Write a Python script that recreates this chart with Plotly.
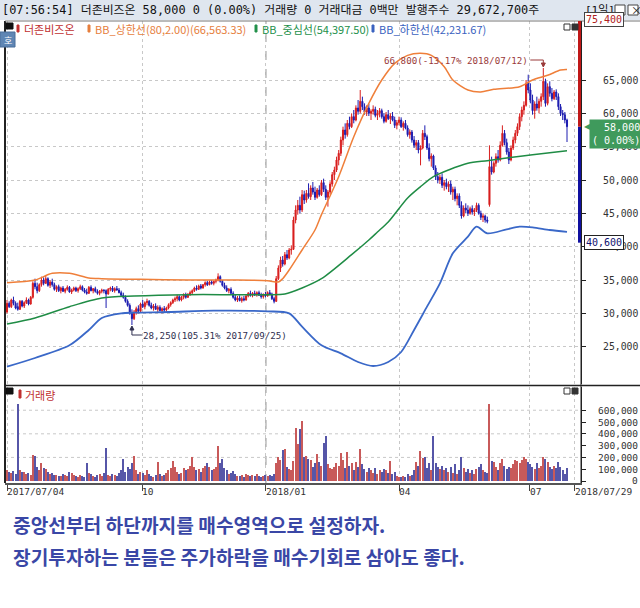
import plotly.graph_objects as go

# ---------------- data ----------------
# daily candles, prices in units of 100 won
OPEN = [302,315,310,320,315,310,306,318,311,316,
        320,314,324,345,340,334,343,350,345,352,
        342,347,343,336,340,334,338,333,336,339,
        332,335,338,334,337,340,335,332,330,339,
        334,337,333,330,333,335,334,329,336,338,
        334,337,335,331,327,324,318,312,300,292,
        302,307,303,314,310,316,318,312,308,311,
        306,309,304,307,305,308,313,316,320,322,
        325,320,324,328,324,329,331,334,338,336,
        341,338,343,346,343,347,345,348,350,355,
        348,342,338,334,336,330,324,320,323,319,
        322,320,326,330,327,330,328,331,327,325,
        328,326,331,329,322,318,352,368,380,374,
        388,383,395,396,440,455,462,455,478,470,
        480,475,488,482,474,485,478,496,486,474,
        482,494,508,515,530,540,560,575,568,585,
        580,595,590,608,603,618,610,602,608,600,
        603,606,597,600,604,595,588,598,592,596,
        590,582,586,590,580,585,578,568,572,560,
        552,556,545,548,570,565,548,532,536,518,
        505,500,504,492,496,490,494,482,486,472,
        476,462,446,458,455,450,457,452,455,462,
        450,444,446,440,463,520,512,525,535,530,
        552,570,556,542,530,548,560,570,580,595,
        605,612,645,635,620,604,614,608,618,625,
        648,615,640,630,622,632,625,610,600,598,
        590]
HIGH = [320,318,322,325,318,316,320,320,318,324,
        322,326,348,352,346,345,355,354,356,354,
        350,352,346,342,343,340,341,338,342,341,
        337,340,340,339,343,342,338,337,341,342,
        338,340,336,335,337,336,336,338,340,341,
        339,341,338,334,331,327,321,315,306,305,
        310,312,316,320,318,322,320,316,314,315,
        312,312,309,311,310,315,318,322,325,328,
        327,326,330,331,330,334,336,340,342,343,
        344,344,348,349,349,350,349,352,360,357,
        350,346,342,338,339,333,328,326,327,325,
        326,328,332,334,332,334,333,334,331,330,
        332,333,335,331,325,356,372,385,386,392,
        395,398,402,445,462,470,475,485,484,485,
        495,492,497,490,488,492,500,502,492,485,
        498,512,520,535,545,565,580,585,590,595,
        600,605,612,620,635,625,615,612,614,606,
        612,610,605,608,607,600,602,605,600,602,
        595,590,595,594,588,590,582,576,575,566,
        560,560,552,575,582,568,555,540,538,522,
        512,508,510,500,502,498,499,490,490,480,
        480,468,462,465,462,460,462,458,466,465,
        454,450,448,445,552,535,528,540,545,558,
        582,575,562,548,552,565,575,585,600,610,
        618,650,658,645,628,618,625,622,630,668,
        652,645,648,638,635,636,630,614,605,602,
        592]
LOW = [300,308,308,312,306,304,305,309,308,314,
       312,313,322,336,330,332,340,342,344,340,
       338,340,334,332,332,330,332,330,334,331,
       329,333,332,331,335,333,330,328,329,333,
       330,331,328,327,330,330,308,328,333,332,
       331,334,330,326,322,316,310,298,282.5,290,
       298,300,302,308,306,312,310,306,304,305,
       302,303,300,302,301,306,310,314,317,318,
       318,318,321,322,323,326,328,332,334,335,
       336,337,340,341,342,343,342,345,348,346,
       340,336,332,330,328,322,318,317,318,316,
       318,319,324,325,324,326,325,326,322,322,
       324,325,327,320,315,317,350,362,370,372,
       380,381,388,395,435,448,450,452,464,466,
       472,470,478,470,472,475,476,482,470,460,
       478,490,500,512,522,536,552,562,565,576,
       578,585,588,598,600,605,598,596,596,590,
       598,594,590,594,592,585,586,590,584,588,
       578,576,582,578,574,576,565,562,556,548,
       545,540,522,546,560,545,528,520,515,500,
       495,494,488,484,486,482,478,470,468,462,
       458,442,444,450,446,448,448,446,452,448,
       440,437,436,435,460,508,510,520,526,528,
       550,552,538,524,528,545,555,566,575,588,
       598,610,630,615,598,592,604,600,610,620,
       610,612,625,618,620,620,605,596,590,585,
       557]
CLOSE = [315,310,320,315,308,306,318,311,316,320,
         314,324,345,340,334,343,350,345,352,342,
         347,343,336,340,334,338,333,336,339,332,
         335,338,334,337,340,335,332,330,339,334,
         337,333,330,333,335,334,329,336,338,334,
         337,335,331,327,324,318,312,300,292,302,
         307,303,314,310,316,318,312,308,311,306,
         309,304,307,305,308,313,316,320,322,325,
         320,324,328,324,329,331,334,338,336,341,
         338,343,346,343,347,345,348,350,355,348,
         342,338,334,336,330,324,320,323,319,322,
         320,326,330,327,330,328,331,327,325,328,
         326,331,329,322,318,352,368,380,374,388,
         383,395,396,440,455,462,455,478,470,480,
         475,488,482,474,485,478,496,486,474,482,
         494,508,515,530,540,560,575,568,585,580,
         595,590,608,603,618,610,602,608,600,603,
         606,597,600,604,595,588,598,592,596,590,
         582,586,590,580,585,578,568,572,560,552,
         556,545,548,570,565,548,532,536,518,505,
         500,504,492,496,490,494,482,486,472,476,
         462,446,458,455,450,457,452,455,462,450,
         444,446,440,438,520,512,525,535,530,552,
         570,556,542,530,548,560,570,580,595,605,
         612,645,635,620,604,614,608,618,625,648,
         615,640,630,622,632,625,610,600,598,590,
         580]
# volume in thousands of shares
VOLUME_K = [95,80,70,85,60,650,90,75,80,60,
            70,55,220,210,120,95,150,110,100,80,
            60,70,55,50,40,45,60,50,45,80,
            70,55,40,35,50,45,30,150,70,60,
            40,35,50,60,45,70,280,55,45,60,
            50,40,70,90,190,80,120,100,150,210,
            90,60,80,70,50,90,60,40,35,50,
            160,60,45,50,70,90,110,170,120,80,
            60,70,110,90,100,130,200,120,90,100,
            80,110,130,155,120,90,100,120,295,150,
            185,110,90,60,70,85,60,45,40,50,
            35,60,55,40,50,45,60,40,30,45,
            50,40,55,45,60,150,200,180,265,275,
            120,100,90,170,450,310,445,510,200,210,
            190,180,120,150,225,160,130,320,385,140,
            110,100,120,150,130,240,180,110,245,130,
            150,90,160,120,270,140,100,80,110,90,
            70,110,60,90,80,100,95,70,170,60,
            80,40,30,35,40,30,60,45,50,90,
            160,130,255,195,200,110,150,90,380,150,
            120,100,130,90,110,80,120,70,140,60,
            90,205,110,80,100,70,90,60,100,120,
            140,90,80,70,655,170,160,120,90,150,
            190,130,100,120,110,140,180,170,150,180,
            200,190,160,140,120,100,150,110,130,200,
            190,160,120,100,130,110,160,120,90,60,
            110]
PRICE_UNIT = 100
VOLUME_UNIT = 1000

# Bollinger band (80, 2.00), thousands of won
BB_UPPER_IDX = [0, 13, 21, 29, 38, 44, 62, 84, 105, 121, 126, 128, 131, 137, 143, 146, 154,
                161, 168, 174, 180, 186, 192, 197, 203, 207, 214, 220, 226, 238, 244, 251, 257, 260]
BB_UPPER = [34.6, 35.0, 36.0, 36.0, 35.3, 35.2, 35.1, 35.0, 35.0, 34.9, 34.7, 35.2, 36.5, 39.5,
            42.5, 44.8, 50.5, 56.5, 61.5, 65.0, 67.5, 68.7, 69.0, 68.7, 67.0, 65.0, 63.5, 63.2,
            63.6, 64.0, 65.0, 65.7, 66.5, 66.56]
BB_MID_IDX = [0, 13, 29, 44, 59, 84, 105, 121, 129, 137, 146, 160, 168, 172, 177, 186, 192, 198,
              205, 214, 223, 232, 244, 260]
BB_MID = [28.4, 29.3, 31.0, 32.3, 32.6, 32.8, 32.8, 32.8, 32.9, 33.8, 35.2, 38.8, 41.0, 42.2,
          43.7, 47.3, 49.0, 50.5, 51.5, 52.5, 52.9, 53.3, 53.8, 54.4]
BB_LOWER_IDX = [0, 13, 29, 38, 44, 53, 59, 75, 96, 121, 131, 137, 146, 155, 163, 170, 177, 183,
                189, 195, 201, 207, 214, 218, 223, 232, 238, 244, 252, 260]
BB_LOWER = [22.0, 23.3, 25.2, 27.5, 29.3, 30.0, 30.1, 30.2, 30.4, 30.3, 30.0, 28.0, 25.2, 24.0,
            22.7, 22.1, 22.7, 24.2, 27.5, 31.0, 34.5, 39.0, 41.5, 43.0, 42.0, 42.6, 43.0, 42.9,
            42.5, 42.23]
BB_UNIT = 1000

PRICE_TICKS = [25000, 30000, 35000, 40000, 45000, 50000, 55000, 60000, 65000]
VOL_TICKS = [0, 100000, 200000, 300000, 400000, 500000, 600000]
VOL_GRID = [200000, 400000, 600000]
DATE_TICK_POS = [0, 62.7, 120.2, 182, 242.8, 263.7]
DATE_TICK_TEXT = ["2017/07/04", "10", "2018/01", "04", "07", "2018/07/29"]
YEAR_TICK_POS = 120.2

HIGH_IDX, HIGH_VAL, HIGH_TEXT = 249, 66800, "66,800(-13.17% 2018/07/12)"
LOW_IDX, LOW_VAL, LOW_TEXT = 58, 28250, "28,250(105.31% 2017/09/25)"
RANGE_LOW, RANGE_HIGH = 40600, 75400
LAST_PRICE, LAST_CHANGE = 58000, "0.00%"

HEADER = "[07:56:54] 더존비즈온 58,000 0 (0.00%) 거래량 0 거래대금 0백만 발행주수 29,672,700주"
LEGEND = [("더존비즈온", "#c03030"),
          ("BB_상한선(80,2.00)(66,563.33)", "#e67e3c"),
          ("BB_중심선(54,397.50)", "#23904a"),
          ("BB_하한선(42,231.67)", "#3a62c0")]
NOTE_1 = "중앙선부터 하단까지를 매수영역으로 설정하자."
NOTE_2 = "장기투자하는 분들은 주가하락을 매수기회로 삼아도 좋다."

# ---------------- layout helpers (pixel -> paper) ----------------
L, R, T, B = 5, 581, 21, 483


def px(x):
    return (x - L) / (R - L)


def py(y):
    return (B - y) / (B - T)


PRICE_DOM = [py(384), 1]
VOL_DOM = [0, py(387)]
X_RANGE = [-0.93, 266.5]
UP, DN = "#d81e1e", "#1c1cb0"
CJK = "Noto Sans CJK KR"
MONO = "DejaVu Sans Mono"
MONO_CJK = "DejaVu Sans Mono, Noto Sans CJK KR"

n = len(CLOSE)
idx = list(range(n))
o = [v * PRICE_UNIT for v in OPEN]
h = [v * PRICE_UNIT for v in HIGH]
lo = [v * PRICE_UNIT for v in LOW]
c = [v * PRICE_UNIT for v in CLOSE]
vol = [v * VOLUME_UNIT for v in VOLUME_K]
vol_colors = ["#c85a5a" if cc >= oo else "#5656a8" for oo, cc in zip(OPEN, CLOSE)]

fig = go.Figure()
fig.add_trace(go.Candlestick(
    x=idx, open=o, high=h, low=lo, close=c, xaxis="x", yaxis="y",
    increasing=dict(line=dict(color=UP, width=1), fillcolor=UP),
    decreasing=dict(line=dict(color=DN, width=1), fillcolor=DN),
    whiskerwidth=0, showlegend=False))
for xs, ys, col, w in [(BB_UPPER_IDX, BB_UPPER, "#ef7f3a", 1.5),
                       (BB_MID_IDX, BB_MID, "#1f8c45", 1.5),
                       (BB_LOWER_IDX, BB_LOWER, "#3a68c8", 1.8)]:
    fig.add_trace(go.Scatter(x=xs, y=[v * BB_UNIT for v in ys], mode="lines",
                             line=dict(color=col, width=w, shape="spline", smoothing=0.8),
                             xaxis="x", yaxis="y", showlegend=False, hoverinfo="skip"))
fig.add_trace(go.Bar(x=list(range(len(vol))), y=vol, marker=dict(color=vol_colors, line=dict(width=0)),
                     width=0.55, xaxis="x2", yaxis="y2", showlegend=False))

shapes = []
# header band
shapes.append(dict(type="rect", xref="paper", yref="paper", x0=px(0), x1=px(640), y0=py(20), y1=py(0),
                   fillcolor="#dfe6ef", line=dict(width=0), layer="below"))
# frame lines
shapes += [
    dict(type="line", xref="paper", yref="paper", x0=0, x1=0, y0=0, y1=1, line=dict(color="#222", width=2)),
    dict(type="line", xref="paper", yref="paper", x0=0, x1=px(640), y0=1, y1=1, line=dict(color="#777", width=1)),
    dict(type="line", xref="paper", yref="paper", x0=0, x1=px(640), y0=py(385.5), y1=py(385.5),
         line=dict(color="#222", width=1.5)),
    dict(type="line", xref="paper", yref="paper", x0=1, x1=1, y0=0, y1=1, line=dict(color="#222", width=1)),
]
# year boundary dashed line in both panels
for yr in ["y", "y2"]:
    shapes.append(dict(type="line", xref="x", yref=yr + " domain", x0=YEAR_TICK_POS, x1=YEAR_TICK_POS,
                       y0=0, y1=1, line=dict(color="#9a9a9a", width=1.2, dash="dash"), layer="below"))
# volume grid
for g in VOL_GRID:
    shapes.append(dict(type="line", xref="x domain", yref="y2", x0=0, x1=1, y0=g, y1=g,
                       line=dict(color="#c8c8c8", width=1, dash="dot"), layer="below"))
# 52-week range bar at the right edge
shapes.append(dict(type="rect", xref="x", yref="y", x0=265.1, x1=266.5, y0=RANGE_LOW, y1=LAST_PRICE,
                   fillcolor="#1010a0", line=dict(width=0)))
shapes.append(dict(type="rect", xref="x", yref="y", x0=265.1, x1=266.5, y0=LAST_PRICE, y1=RANGE_HIGH,
                   fillcolor="#c01818", line=dict(width=0)))
# leaders for the high / low marks (pixel offsets around the data points)
shapes.append(dict(type="path", xref="x", yref="y", xsizemode="pixel", ysizemode="pixel",
                   xanchor=HIGH_IDX, yanchor=HIGH_VAL, path="M -13,8 L 0,8 L 0,2",
                   line=dict(color="#9a3a3a", width=1)))
shapes.append(dict(type="path", xref="x", yref="y", xsizemode="pixel", ysizemode="pixel",
                   xanchor=HIGH_IDX, yanchor=HIGH_VAL, path="M -2,5 L 2,5 L 0,1 Z",
                   fillcolor="#9a3a3a", line=dict(color="#9a3a3a", width=1)))
shapes.append(dict(type="path", xref="x", yref="y", xsizemode="pixel", ysizemode="pixel",
                   xanchor=LOW_IDX, yanchor=LOW_VAL, path="M 0,-2 L 0,-10 L 10,-10",
                   line=dict(color="#303050", width=1)))
shapes.append(dict(type="path", xref="x", yref="y", xsizemode="pixel", ysizemode="pixel",
                   xanchor=LOW_IDX, yanchor=LOW_VAL, path="M -2,-5 L 2,-5 L 0,-1 Z",
                   fillcolor="#303050", line=dict(color="#303050", width=1)))


# panel icons / legend colour bars
def prect(x0, x1, y0, y1, fill, line="#333"):
    return dict(type="rect", xref="paper", yref="paper", x0=px(x0), x1=px(x1), y0=py(y1), y1=py(y0),
                fillcolor=fill, line=dict(color=line, width=1))


shapes += [prect(6, 13, 23, 29, "#111", "#111"), prect(17, 19, 25, 32, "#c03030", "#c03030"),
           prect(88, 90, 25, 32, "#e67e3c", "#e67e3c"), prect(255, 257, 25, 32, "#23904a", "#23904a"),
           prect(372, 374, 25, 32, "#3a62c0", "#3a62c0"),
           prect(564, 570, 24, 30, "white"), prect(572, 578, 24, 30, "#333"),
           prect(6, 13, 388, 394, "#111", "#111"), prect(19, 21, 390, 398, "#c03030", "#c03030"),
           prect(564, 570, 388, 394, "white"), prect(572, 578, 388, 394, "#333"),
           prect(0, 15, 32, 47, "#5f86b4", "#4a6f9a"),
           prect(615, 625, 5, 15, "white", "#444"), prect(628, 638, 5, 15, "white", "#444")]

ann = []


def txt(x, y, text, size, color, family=CJK, xanchor="left", yanchor="middle", **kw):
    d = dict(xref="paper", yref="paper", x=px(x), y=py(y), text=text, showarrow=False,
             xanchor=xanchor, yanchor=yanchor, font=dict(family=family, size=size, color=color))
    d.update(kw)
    ann.append(d)


txt(0, 10, HEADER, 11.9, "#111", family=MONO_CJK)
txt(583, 10, "[1일]", 11, "#111", family=MONO_CJK)
txt(629, 10, "×", 11, "#222")
txt(7.5, 40, "호", 9, "white", xanchor="center")
lx = [22, 93, 260, 377]
for (t, col), x in zip(LEGEND, lx):
    txt(x, 29, t, 11, col)
txt(23, 395, "거래량", 11, "#c03030")
txt(11, 525, "<b>" + NOTE_1 + "</b>", 19.2, "#3a47a6")
txt(11, 557, "<b>" + NOTE_2 + "</b>", 19.2, "#3a47a6")

# right axis labels
for v in PRICE_TICKS:
    ann.append(dict(xref="paper", yref="y", x=px(640), y=v, text=f"{v:,}", showarrow=False,
                    xanchor="right", yanchor="middle", font=dict(family=MONO, size=9.8, color="#333")))
for v in VOL_TICKS:
    ann.append(dict(xref="paper", yref="y2", x=px(640), y=v, text=f"{v:,}", showarrow=False,
                    xanchor="right", yanchor="middle", font=dict(family=MONO, size=9.5, color="#333")))
# date labels
for pos, t in zip(DATE_TICK_POS, DATE_TICK_TEXT):
    ann.append(dict(xref="x", yref="paper", x=pos, y=py(484), text=t, showarrow=False,
                    xanchor="left", yanchor="top", xshift=-2,
                    font=dict(family=MONO, size=9.5, color="#333")))
# high / low marks
ann.append(dict(xref="x", yref="y", x=HIGH_IDX, y=HIGH_VAL, text=HIGH_TEXT, showarrow=False,
                xanchor="right", yanchor="middle", xshift=-13, yshift=8,
                font=dict(family=MONO, size=9.2, color="#9a3a3a")))
ann.append(dict(xref="x", yref="y", x=LOW_IDX, y=LOW_VAL, text=LOW_TEXT, showarrow=False,
                xanchor="left", yanchor="middle", xshift=9, yshift=-10,
                font=dict(family=MONO, size=9.2, color="#303050")))
# range labels and last price box
ann.append(dict(xref="paper", yref="paper", x=px(584), y=py(20), text=f"{RANGE_HIGH:,}", showarrow=False,
                xanchor="left", yanchor="middle", bgcolor="white", bordercolor="#444", borderwidth=1,
                borderpad=1, font=dict(family=MONO, size=10, color="#b02020")))
ann.append(dict(xref="paper", yref="y", x=px(584), y=RANGE_LOW, text=f"{RANGE_LOW:,}", showarrow=False,
                xanchor="left", yanchor="middle", bgcolor="white", bordercolor="#222", borderwidth=1,
                borderpad=1, font=dict(family=MONO, size=10, color="#101070")))
ann.append(dict(xref="paper", yref="y", x=px(589), y=LAST_PRICE, yshift=8, showarrow=False,
                text=f"{LAST_PRICE:,}<br>( {LAST_CHANGE})", align="right",
                xanchor="left", yanchor="top", bgcolor="#3f9a5c", borderpad=2,
                font=dict(family=MONO, size=10, color="white")))
ann.append(dict(xref="paper", yref="y", x=px(582), y=LAST_PRICE, text="◀", showarrow=False,
                xanchor="left", yanchor="middle", font=dict(family="DejaVu Sans", size=8, color="#3f9a5c")))

grid = dict(showgrid=True, gridcolor="#c8c8c8", griddash="dot", gridwidth=1, zeroline=False)
fig.update_layout(
    width=640, height=608, margin=dict(l=L, r=640 - R, t=T, b=608 - B),
    paper_bgcolor="white", plot_bgcolor="white", showlegend=False, bargap=0, hovermode=False,
    xaxis=dict(domain=[0, 1], anchor="y", range=X_RANGE, tickvals=DATE_TICK_POS, showticklabels=False,
               ticks="", showline=False, rangeslider=dict(visible=False), **grid),
    xaxis2=dict(domain=[0, 1], anchor="y2", matches="x", range=X_RANGE, tickvals=DATE_TICK_POS,
                showticklabels=False, ticks="outside", ticklen=6, tickcolor="#444", showline=True,
                linecolor="#555", linewidth=2, **grid),
    yaxis=dict(domain=PRICE_DOM, anchor="x", side="right", range=[19400, 73850], tickvals=PRICE_TICKS,
               showticklabels=False, ticks="outside", ticklen=4, tickcolor="#222", showline=True,
               linecolor="#222", **grid),
    yaxis2=dict(domain=VOL_DOM, anchor="x2", side="right", range=[-17000, 797000], tickvals=VOL_TICKS,
                showticklabels=False, ticks="outside", ticklen=4, tickcolor="#222", showline=True,
                linecolor="#222", showgrid=False, zeroline=False),
    shapes=shapes, annotations=ann,
)
fig.write_html("out.html", config={"displayModeBar": False},
               post_script="document.body.style.margin='0';document.body.style.overflow='hidden';")
